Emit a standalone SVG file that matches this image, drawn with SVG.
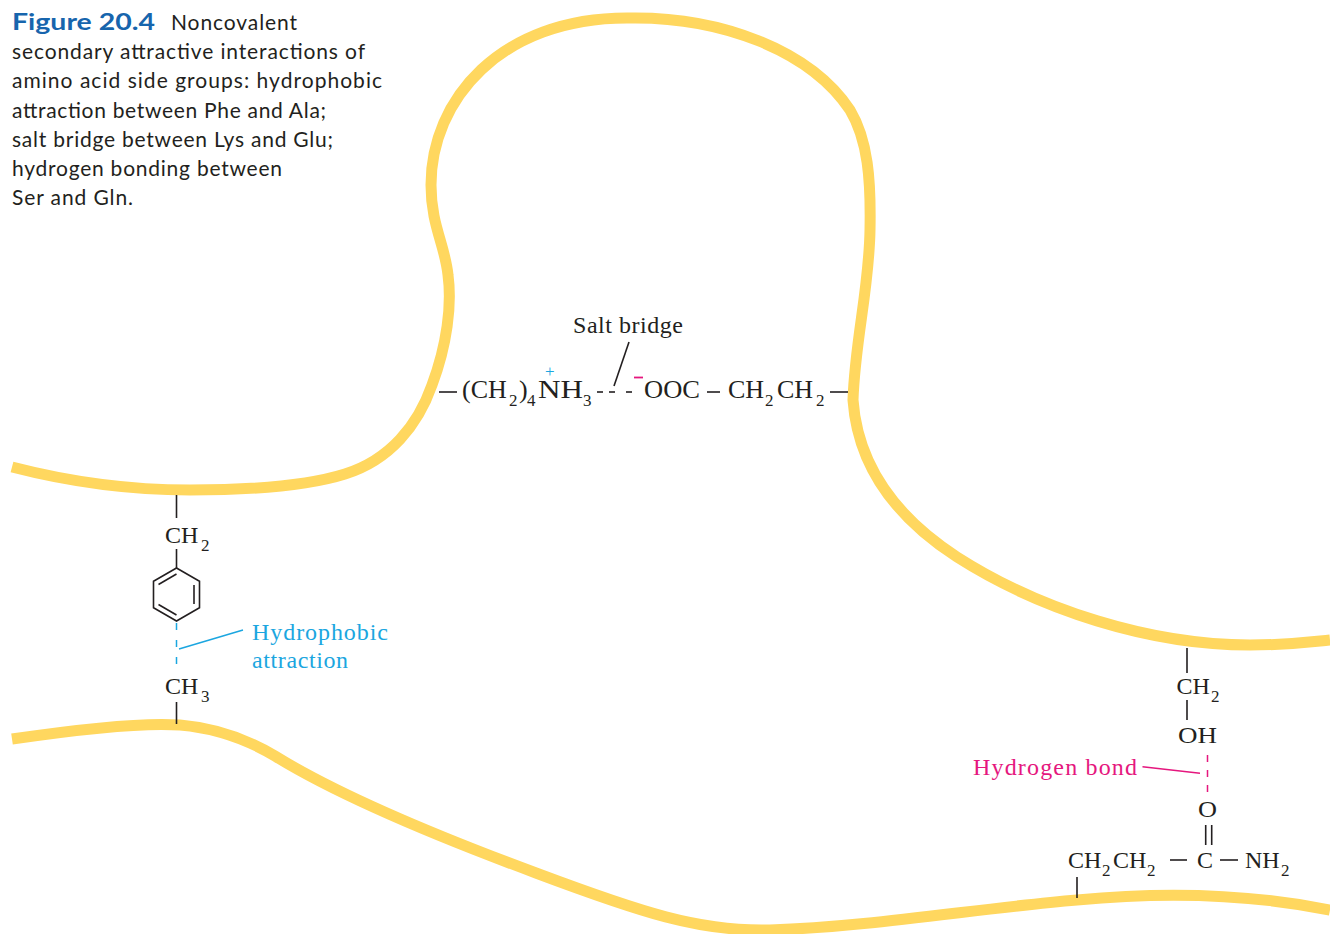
<svg xmlns="http://www.w3.org/2000/svg" width="1330" height="934" viewBox="0 0 1330 934">
  <style>
    .strand { fill: none; stroke: #FFD75F; stroke-width: 11; stroke-linecap: butt; }
    .bond { stroke: #231f20; stroke-width: 1.6; fill: none; }
    .cap { font-family: Lato, "Open Sans", sans-serif; font-size: 21px; fill: #231f20; }
    .fig { font-family: Lato, "Open Sans", sans-serif; font-size: 23px; font-weight: bold; fill: #1765ad; }
    .chem { font-family: "Liberation Serif", serif; font-size: 24px; fill: #231f20; }
    .chain { font-size: 26px; }
    .sub { font-size: 17px; }
    .lbl { font-family: "Liberation Serif", serif; font-size: 24px; }
    .blue { fill: #1ba6e0; }
    .pink { fill: #e5177e; }
    .bline { stroke: #1ba6e0; stroke-width: 1.5; fill: none; }
    .pline { stroke: #e5177e; stroke-width: 1.5; fill: none; }
  </style>

  <!-- caption -->
  <g id="caption">
    <text class="fig" x="12" y="29.5" textLength="143" lengthAdjust="spacingAndGlyphs">Figure 20.4</text>
    <text class="cap" x="171" y="29.5" textLength="126">Noncovalent</text>
    <text class="cap" x="12" y="59" textLength="353">secondary attractive interactions of</text>
    <text class="cap" x="12" y="88.3" textLength="370">amino acid side groups: hydrophobic</text>
    <text class="cap" x="12" y="117.5" textLength="314">attraction between Phe and Ala;</text>
    <text class="cap" x="12" y="146.7" textLength="321">salt bridge between Lys and Glu;</text>
    <text class="cap" x="12" y="175.8" textLength="270">hydrogen bonding between</text>
    <text class="cap" x="12" y="205" textLength="121">Ser and Gln.</text>
  </g>

  <!-- polypeptide backbone strands -->
  <g id="strands">
    <path id="strand-upper" class="strand" d="M12,467 C70,482 130,490 190,490 C255,490 310,485 345,474 C390,460 418,425 432,385 C447,345 452,305 448,275 C445,245 431,225 431,185 C431,100 500,18 627,18 C720,16 810,50 850,110 C868,140 871,180 870,230 C869,290 855,340 853,400 C858,470 900,520 957,557 C1040,610 1150,645 1250,645 C1290,645 1310,642 1330,640"/>
    <path id="strand-lower" class="strand" d="M12,739 C80,729 140,722 180,725 C215,728 245,738 275,756 C330,790 420,830 536,873 C640,912 700,932 770,930 C870,927 980,908 1077,900 C1150,893 1240,892 1330,910"/>
  </g>

  <!-- Lys - Glu salt bridge -->
  <g id="salt-bridge">
    <line class="bond" x1="439" y1="392" x2="457" y2="392"/>
    <text class="chem chain" x="462" y="398">(CH<tspan class="sub" x="509" dy="8">2</tspan><tspan x="519" dy="-8">)</tspan><tspan class="sub" x="527" dy="8">4</tspan><tspan class="blue" x="545" dy="-29" font-size="17">+</tspan><tspan x="538" dy="21" textLength="45" lengthAdjust="spacingAndGlyphs">NH</tspan><tspan class="sub" x="583" dy="8">3</tspan></text>
    <line class="bond" x1="597" y1="392" x2="603" y2="392"/>
    <line class="bond" x1="609" y1="392" x2="615" y2="392"/>
    <line class="bond" x1="626" y1="392" x2="632" y2="392"/>
    <line x1="634" y1="377.5" x2="643" y2="377.5" stroke="#e5177e" stroke-width="1.8"/>
    <text class="chem chain" x="644" y="398" textLength="56" lengthAdjust="spacingAndGlyphs">OOC</text>
    <line class="bond" x1="707" y1="392" x2="720" y2="392"/>
    <text class="chem chain" x="728" y="398">CH<tspan class="sub" x="765" dy="8">2</tspan><tspan x="777" dy="-8">CH</tspan><tspan class="sub" x="816" dy="8">2</tspan></text>
    <line class="bond" x1="830" y1="392" x2="848" y2="392"/>
    <text class="lbl" x="573" y="333" textLength="110" fill="#231f20">Salt bridge</text>
    <line class="bond" x1="629" y1="342" x2="614" y2="386" stroke-width="1.3"/>
  </g>

  <!-- Phe - Ala hydrophobic attraction -->
  <g id="hydrophobic">
    <line class="bond" x1="176.5" y1="495" x2="176.5" y2="518"/>
    <text class="chem" x="165" y="542.7">CH<tspan class="sub" x="201" dy="8">2</tspan></text>
    <line class="bond" x1="176.5" y1="549" x2="176.5" y2="568"/>
    <polygon class="bond" points="176.5,568 199.5,581.3 199.5,607.7 176.5,621 153.5,607.7 153.5,581.3"/>
    <line class="bond" x1="158.5" y1="584.5" x2="176.5" y2="574"/>
    <line class="bond" x1="194" y1="585" x2="194" y2="604"/>
    <line class="bond" x1="158.5" y1="604.5" x2="176.5" y2="615"/>
    <line class="bline" x1="176.5" y1="623" x2="176.5" y2="671" stroke-dasharray="7,10"/>
    <line class="bline" x1="179" y1="649" x2="243" y2="630"/>
    <text class="lbl blue" x="252" y="640" textLength="136">Hydrophobic</text>
    <text class="lbl blue" x="252" y="668" textLength="96">attraction</text>
    <text class="chem" x="165" y="694">CH<tspan class="sub" x="201" dy="8">3</tspan></text>
    <line class="bond" x1="176.5" y1="702" x2="176.5" y2="724"/>
  </g>

  <!-- Ser - Gln hydrogen bond -->
  <g id="hydrogen-bond">
    <line class="bond" x1="1187" y1="648" x2="1187" y2="673"/>
    <text class="chem" x="1176.5" y="693.5">CH<tspan class="sub" x="1211" dy="8">2</tspan></text>
    <line class="bond" x1="1187" y1="700" x2="1187" y2="720"/>
    <text class="chem" x="1178" y="743.3" textLength="39" lengthAdjust="spacingAndGlyphs">OH</text>
    <line class="pline" x1="1207.5" y1="755" x2="1207.5" y2="795" stroke-dasharray="7,8"/>
    <line class="pline" x1="1142.5" y1="766.7" x2="1200" y2="773.3"/>
    <text class="lbl pink" x="973" y="775" textLength="164">Hydrogen bond</text>
    <text class="chem" x="1198" y="816.7" textLength="19" lengthAdjust="spacingAndGlyphs">O</text>
    <line class="bond" x1="1205.7" y1="825" x2="1205.7" y2="845"/>
    <line class="bond" x1="1211.7" y1="825" x2="1211.7" y2="845"/>
    <text class="chem" x="1068" y="868.3">CH<tspan class="sub" x="1102" dy="8">2</tspan><tspan x="1113" dy="-8">CH</tspan><tspan class="sub" x="1147" dy="8">2</tspan></text>
    <line class="bond" x1="1170" y1="860" x2="1187" y2="860"/>
    <text class="chem" x="1197" y="868.3" textLength="16" lengthAdjust="spacingAndGlyphs">C</text>
    <line class="bond" x1="1220" y1="860" x2="1238" y2="860"/>
    <text class="chem" x="1245" y="868.3">NH<tspan class="sub" x="1281" dy="8">2</tspan></text>
    <line class="bond" x1="1077" y1="877" x2="1077" y2="898"/>
  </g>
</svg>
